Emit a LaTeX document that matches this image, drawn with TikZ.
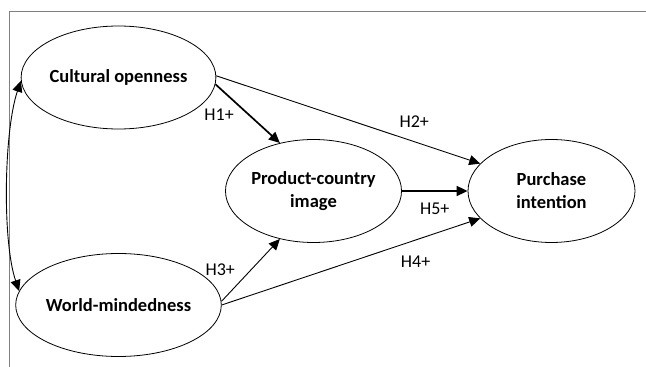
\documentclass[tikz,border=0pt]{standalone}
\usepackage{fontspec}
\setmainfont{Carlito}
\usepackage{tikz}
\usetikzlibrary{shapes.geometric,arrows.meta}

\tikzset{
  construct/.style={shape=ellipse, draw=black, line width=0.8pt, minimum width=167pt,
    minimum height=103pt, inner sep=0pt, align=center,
    font=\fontsize{18.5}{23}\selectfont\bfseries},
  hyp/.style={-{Triangle[length=11pt,width=10pt]}, line width=0.9pt},
  strong/.style={hyp, line width=1.7pt},
  corr/.style={{Triangle[length=11pt,width=10pt]}-{Triangle[length=11pt,width=10pt]}, line width=0.9pt},
  hlabel/.style={font=\fontsize{18}{22}\selectfont},
  frame/.style={draw=black!50, line width=0.9pt}
}

\begin{document}
\begin{tikzpicture}[x=1pt,y=1pt]
\useasboundingbox (0,0) rectangle (646,367);
\draw[frame] (9,0) -- (9,356) -- (646,356);

\node[construct](CO) at (118.5,289.5) {Cultural openness};
\node[construct](WM) at (118.5,62) {World-mindedness};
\node[construct](PCI) at (313.5,176) {Product-country\\image};
\node[construct](PI) at (551.5,176) {Purchase\\intention};

\path[strong] (CO.-4) edge node[pos=0.52, left=11pt, hlabel] {H1+} (PCI.125);
\path[hyp] (CO.1) edge node[pos=0.75, above=10pt, hlabel] {H2+} (PI.159);
\path[hyp] (WM.2) edge node[pos=0.5, left=12pt, hlabel] {H3+} (PCI.235);
\path[hyp] (WM.0) edge node[pos=0.75, below=12pt, hlabel] {H4+} (PI.201);
\path[strong] (PCI.east) edge node[pos=0.5, below=8pt, hlabel] {H5+} (PI.west);

\draw[corr] (CO.182) .. controls +(-17,-50) and +(-17,50) .. (WM.172);
\end{tikzpicture}
\end{document}
